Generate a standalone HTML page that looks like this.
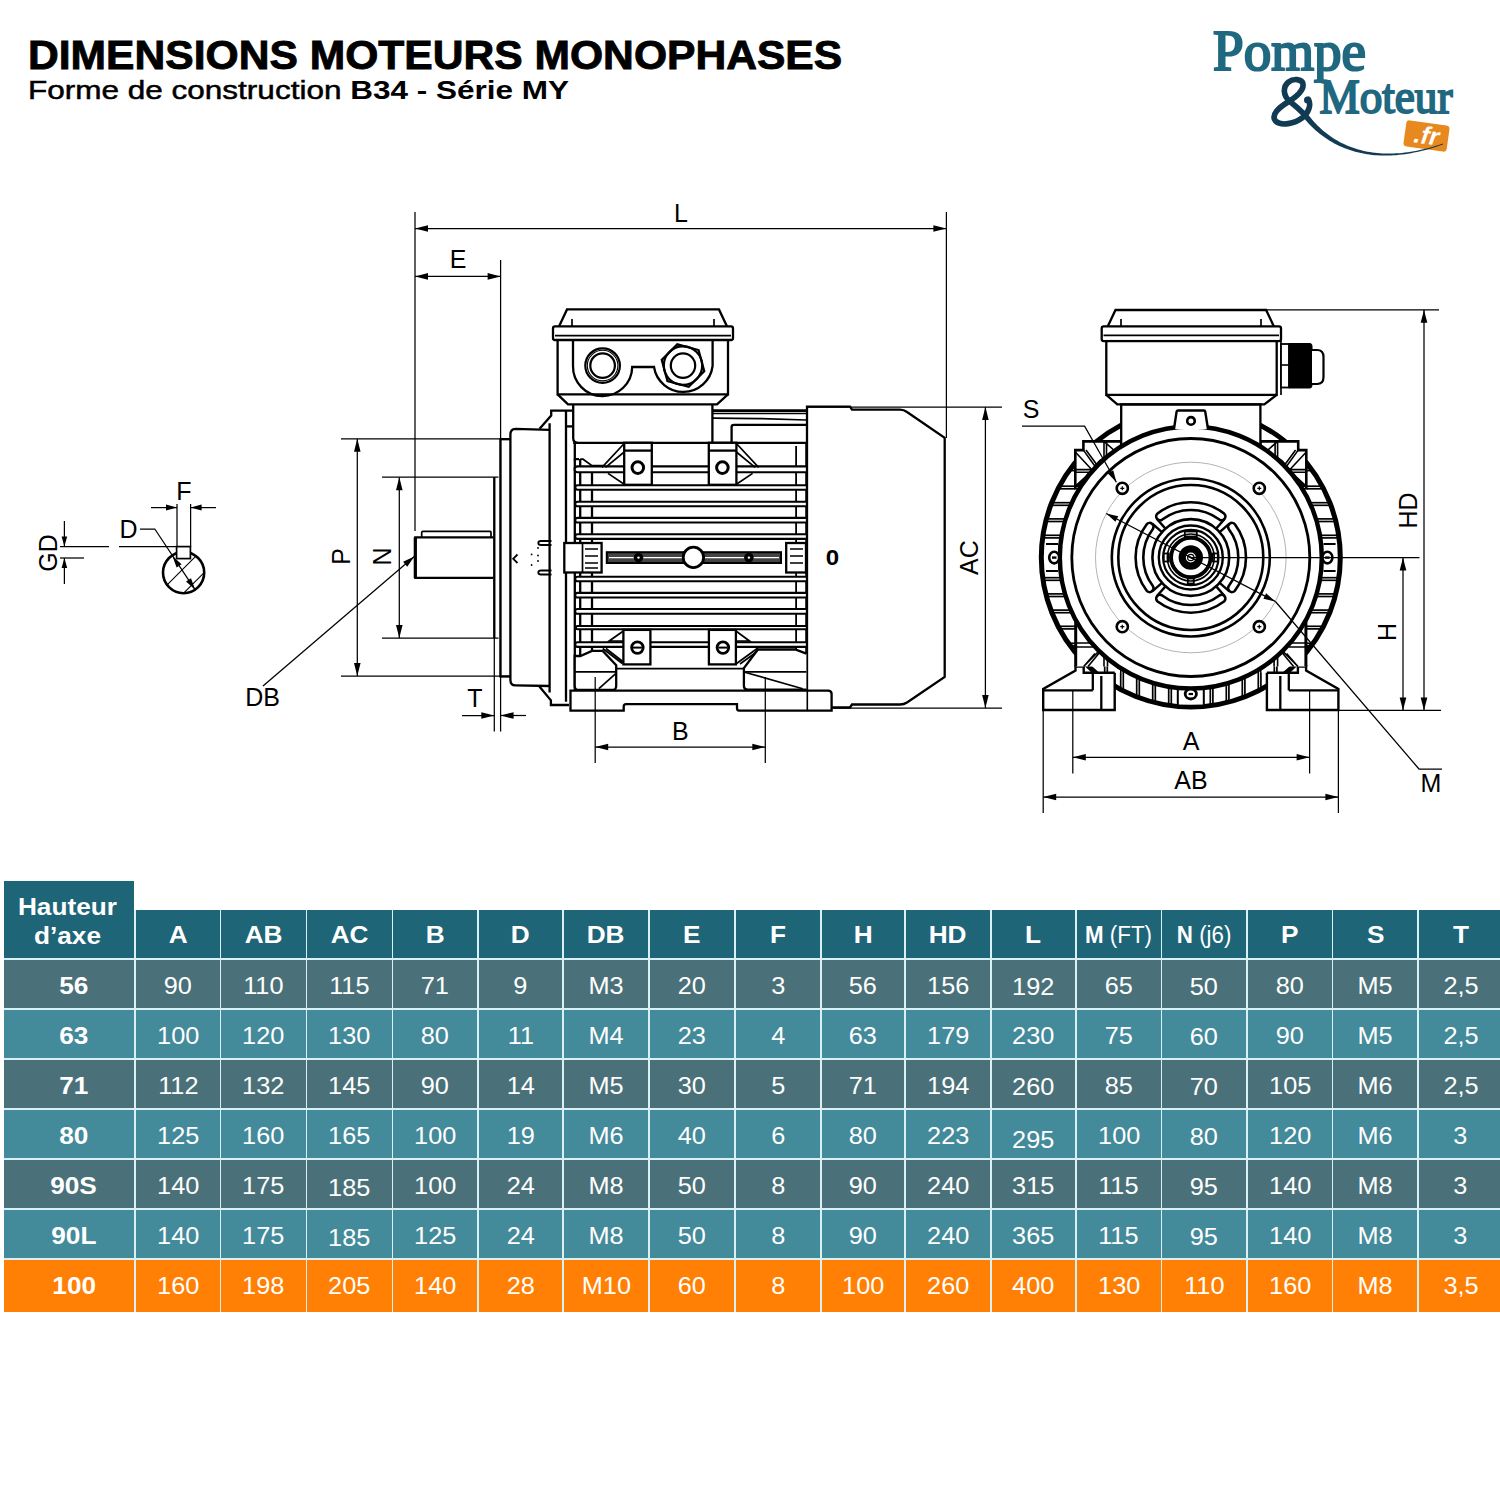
<!DOCTYPE html>
<html><head><meta charset="utf-8"><title>Dimensions moteurs monophases</title>
<style>
html,body{margin:0;padding:0;background:#fff;width:1500px;height:1500px;overflow:hidden;position:relative;font-family:"Liberation Sans",sans-serif}
.t1{position:absolute;left:28.3px;top:31.5px;font-weight:bold;font-size:40.7px;line-height:46px;white-space:nowrap;color:#000;transform-origin:0 0;transform:scaleX(1.047);-webkit-text-stroke:0.9px #000}
.t2{position:absolute;left:28.2px;top:74.5px;font-weight:bold;font-size:26.2px;line-height:30px;white-space:nowrap;color:#000;transform-origin:0 0;transform:scaleX(1.203)}
.m{font-weight:normal;-webkit-text-stroke:0.5px #000}
.c{position:absolute;color:#fff;text-align:center;font-size:23px;white-space:nowrap;box-sizing:border-box}
.h{background:#1f6578;font-weight:bold}
.b{font-weight:bold}
.r{font-weight:normal}
.sx{display:inline-block;transform:scaleX(1.14)}
.sd{display:inline-block;transform:scaleX(1.1)}
.sm{display:inline-block;transform:scaleX(0.97)}
svg{position:absolute;left:0;top:0}
</style></head><body>
<div class="t1" id="t1">DIMENSIONS MOTEURS MONOPHASES</div>
<div class="t2" id="t2"><span class="m">Forme de construction </span>B34 - Série MY</div>
<svg width="1500" height="880" viewBox="0 0 1500 880">
<g stroke="#000" stroke-linecap="butt" stroke-linejoin="miter" fill="none" font-family="Liberation Sans, sans-serif">
<path d="M559,326.4 L567,309.4 H719 L727,326.4" stroke-width="2.3" fill="none"/>
<line x1="572" y1="319" x2="572" y2="326.4" stroke-width="1.7"/>
<line x1="714" y1="319" x2="714" y2="326.4" stroke-width="1.7"/>
<rect x="553" y="326.4" width="180" height="13.6" rx="2" stroke-width="2.3" fill="none"/>
<line x1="555" y1="335.6" x2="731" y2="335.6" stroke-width="1.7"/>
<path d="M557.6,340 V394.4 H728 V340" stroke-width="2.3" fill="none"/>
<path d="M557.6,394.4 L568,404.4 H717 L728,394.4" stroke-width="2.3" fill="none"/>
<path d="M573,340 V366 A29.6,29.6 0 0 0 632.2,367 H654 A29.6,29.6 0 0 0 712.6,366 V340" stroke-width="2.3" fill="none"/>
<circle cx="602.6" cy="365.6" r="17.3" stroke-width="2.2" fill="none"/>
<circle cx="602.6" cy="365.6" r="15.3" stroke-width="1.1" fill="none"/>
<circle cx="602.6" cy="365.6" r="12.3" stroke-width="2.2" fill="none"/>
<polygon points="704.25,371.29 688.69,386.85 667.44,381.16 661.75,359.91 677.31,344.35 698.56,350.04" stroke-width="2.2" fill="#fff"/>
<circle cx="683" cy="365.6" r="19.2" stroke-width="2.2" fill="none"/>
<circle cx="683" cy="365.6" r="12.2" stroke-width="2.2" fill="none"/>
<path d="M573.2,404.4 V438 Q573.2,442.8 578,442.8" stroke-width="2.3" fill="none"/>
<line x1="712.4" y1="404.4" x2="712.4" y2="442.8" stroke-width="2.3"/>
<line x1="712.4" y1="410.8" x2="806" y2="410.8" stroke-width="3"/>
<line x1="712.4" y1="413.7" x2="806" y2="413.7" stroke-width="1.3"/>
<path d="M712.4,418.2 L760,418.6 L806,420" stroke-width="1.7" fill="none"/>
<path d="M731.6,442.8 V427 Q731.6,424.9 734,424.9 H811.8" stroke-width="2.3" fill="none"/>
<path d="M549.6,429.8 L515.5,428.8 Q510.4,429 510.4,434.5 V680 Q510.4,685.4 515.5,685.4 L549.6,686" stroke-width="2.3" fill="none"/>
<path d="M539.6,428.8 L551.2,415.6 V410.6 H572.4" stroke-width="2.3" fill="none"/>
<path d="M539.2,686.3 L550.9,700.3 V705 H569" stroke-width="2.3" fill="none"/>
<line x1="549.6" y1="423.2" x2="549.6" y2="692.4" stroke-width="2.3"/>
<line x1="566" y1="410.6" x2="566" y2="701.7" stroke-width="2.3"/>
<line x1="566" y1="426.4" x2="572.4" y2="426.4" stroke-width="2.3"/>
<line x1="500.4" y1="439.2" x2="510.4" y2="439.2" stroke-width="2.3"/>
<line x1="500.4" y1="676.5" x2="510.4" y2="676.5" stroke-width="2.3"/>
<line x1="500.4" y1="438.2" x2="500.4" y2="677.5" stroke-width="2.3"/>
<path d="M551.5,541 H541 Q538.3,541 538.3,543 Q538.3,545 541,545 H551.5" stroke-width="1.8" fill="none"/>
<path d="M551.5,570.5 H541 Q538.3,570.5 538.3,572.5 Q538.3,574.5 541,574.5 H551.5" stroke-width="1.8" fill="none"/>
<path d="M517.5,554.5 L513.2,558.8 L517.5,563" stroke-width="1.8" fill="none"/>
<circle cx="538" cy="548" r="0.9" stroke-width="0" fill="#000"/>
<circle cx="531.6" cy="554.4" r="0.9" stroke-width="0" fill="#000"/>
<circle cx="538" cy="555.5" r="0.9" stroke-width="0" fill="#000"/>
<circle cx="531.6" cy="565" r="0.9" stroke-width="0" fill="#000"/>
<circle cx="538" cy="561" r="0.9" stroke-width="0" fill="#000"/>
<path d="M493.2,537.3 H415.3 V577.9 H493.2" stroke-width="2.3" fill="none"/>
<line x1="415.3" y1="537.3" x2="415.3" y2="577.9" stroke-width="3.2"/>
<path d="M421.7,537.3 V532.5 Q421.7,531.4 423,531.4 H490 Q491,531.4 491,532.5 V537.3" stroke-width="1.7" fill="none"/>
<line x1="494.3" y1="477.2" x2="494.3" y2="638" stroke-width="2.3"/>
<path d="M574.8,442.8 V459.2 H579" stroke-width="2.3" fill="none"/>
<line x1="574.8" y1="459.2" x2="574.8" y2="700" stroke-width="2.3"/>
<line x1="580.2" y1="459" x2="580.2" y2="656" stroke-width="2.3"/>
<line x1="592" y1="466" x2="592" y2="656" stroke-width="2.3"/>
<line x1="796.1" y1="446" x2="796.1" y2="668" stroke-width="1.8"/>
<line x1="806.4" y1="442.8" x2="806.4" y2="690" stroke-width="2.3"/>
<line x1="573.2" y1="442.8" x2="807" y2="442.8" stroke-width="2.3"/>
<path d="M806,466.4 H577.5 A2.9,2.9 0 0 0 577.5,472.2 H806" stroke-width="2.1" fill="#fff"/>
<path d="M806,485.3 H577.5 A2.2,2.2 0 0 0 577.5,489.7 H806" stroke-width="2.1" fill="#fff"/>
<path d="M806,501.7 H577.5 A2.3,2.3 0 0 0 577.5,506.3 H806" stroke-width="2.1" fill="#fff"/>
<path d="M806,517.9 H577.5 A2.3,2.3 0 0 0 577.5,522.5 H806" stroke-width="2.1" fill="#fff"/>
<path d="M806,534.3 H577.5 A2.3,2.3 0 0 0 577.5,538.9 H806" stroke-width="2.1" fill="#fff"/>
<path d="M806,576.7 H577.5 A2.3,2.3 0 0 0 577.5,581.3 H806" stroke-width="2.1" fill="#fff"/>
<path d="M806,592.9 H577.5 A2.3,2.3 0 0 0 577.5,597.5 H806" stroke-width="2.1" fill="#fff"/>
<path d="M806,609 H577.5 A2.4,2.4 0 0 0 577.5,613.8 H806" stroke-width="2.1" fill="#fff"/>
<path d="M806,626 H577.5 A1.6,1.6 0 0 0 577.5,629.2 H806" stroke-width="2.1" fill="#fff"/>
<path d="M806,642.3 H577.5 A2.3,2.3 0 0 0 577.5,646.9 H806" stroke-width="2.1" fill="#fff"/>
<rect x="624.2" y="442.8" width="27.6" height="42" rx="0" stroke-width="2.3" fill="#fff"/>
<line x1="624.2" y1="450.6" x2="651.8" y2="450.6" stroke-width="2.3"/>
<circle cx="637.8" cy="467.6" r="5.8" stroke-width="3" fill="none"/>
<rect x="708.8" y="442.8" width="27.6" height="42" rx="0" stroke-width="2.3" fill="#fff"/>
<line x1="708.8" y1="450.6" x2="736.4" y2="450.6" stroke-width="2.3"/>
<circle cx="722.4" cy="467.6" r="5.8" stroke-width="3" fill="none"/>
<rect x="623.4" y="629.9" width="27" height="34.5" rx="0" stroke-width="2.3" fill="#fff"/>
<circle cx="637.4" cy="647.6" r="5.8" stroke-width="2.8" fill="none"/>
<line x1="632.9" y1="647.6" x2="641.9" y2="647.6" stroke-width="2"/>
<rect x="708.9" y="629.9" width="27" height="34.5" rx="0" stroke-width="2.3" fill="#fff"/>
<circle cx="722.9" cy="647.6" r="5.8" stroke-width="2.8" fill="none"/>
<line x1="718.4" y1="647.6" x2="727.4" y2="647.6" stroke-width="2"/>
<path d="M624.2,443.5 L602,467.4 M624.2,452 L605.5,467.4 M608,473.4 L624.2,484.2" stroke-width="1.7" fill="none"/>
<path d="M736.4,443.5 L758.6,467.4 M736.4,452 L755.1,467.4 M752.6,473.4 L736.4,484.2" stroke-width="1.7" fill="none"/>
<path d="M580.2,459.2 H583 L592,465.6 H603.2" stroke-width="1.7" fill="none"/>
<path d="M623.4,631 L609.2,641 H623.4 M602.7,648.5 L622.3,663.5 M606,648.5 L623.4,662" stroke-width="1.7" fill="none"/>
<path d="M735.9,631 L749.5,641 H735.9 M757.9,648 L735.9,664 M757.9,651 L740,664" stroke-width="1.7" fill="none"/>
<rect x="606.8" y="552.2" width="174.2" height="10.8" rx="0" stroke-width="2" fill="#444"/>
<line x1="609" y1="557.6" x2="779" y2="557.6" stroke-width="1.2" stroke="#fff"/>
<circle cx="693.4" cy="557.4" r="10.2" stroke-width="2.8" fill="#fff"/>
<circle cx="638.5" cy="557.6" r="4.8" stroke-width="0" fill="#000"/>
<circle cx="748.9" cy="557.6" r="4.8" stroke-width="0" fill="#000"/>
<circle cx="638.5" cy="557.6" r="1.2" stroke-width="0" fill="#fff"/>
<circle cx="748.9" cy="557.6" r="1.2" stroke-width="0" fill="#fff"/>
<rect x="564.3" y="543" width="37.3" height="29.5" rx="0" stroke-width="2.3" fill="#fff"/>
<line x1="582.5" y1="543" x2="582.5" y2="572.5" stroke-width="1.7"/>
<path d="M585,549 H598 M585,556 H598 M585,563 H598 M585,568 H598" stroke-width="1.3" fill="none"/>
<rect x="786.2" y="543" width="19.8" height="29.5" rx="0" stroke-width="2.3" fill="#fff"/>
<path d="M790,549 H803 M790,556 H803 M790,563 H803" stroke-width="1.3" fill="none"/>
<line x1="616" y1="668.6" x2="743.9" y2="668.6" stroke-width="1.7"/>
<path d="M807,406.7 H850 L852,409.7 H900 Q904,409.7 907,412 L944.7,437.8 V677 L907,702.5 Q904,704.5 900,704.5 H852 L850,707.5 H807 Z" stroke-width="2.3" fill="#fff"/>
<path d="M574.7,656 V686 Q574.7,690 578.7,690 H612.2 Q616.2,690 616.2,686 V665.3 L602.7,650.9 H592 L580.3,656 Z" stroke-width="2.3" fill="#fff"/>
<line x1="574.7" y1="671.9" x2="616.2" y2="671.9" stroke-width="1.7"/>
<line x1="598.9" y1="688.7" x2="615.7" y2="673.7" stroke-width="1.7"/>
<path d="M806.4,653.7 L795.2,649.5 H757.9 L743.9,668.1 V686 Q743.9,689.6 747.5,689.6 H806.4" stroke-width="2.3" fill="#fff"/>
<line x1="743.9" y1="671.9" x2="806.4" y2="671.9" stroke-width="1.7"/>
<line x1="743.9" y1="672" x2="802.7" y2="688.7" stroke-width="1.7"/>
<path d="M570.5,690.6 H828 Q831.6,690.6 831.6,694 V710.6 H739 Q737,710.6 737,708 V704.1 H626 Q623.7,704.1 623.7,706.5 V710.6 H570.5 Z" stroke-width="2.3" fill="#fff"/>
<line x1="807.3" y1="690.6" x2="807.3" y2="710.6" stroke-width="1.6"/>
<line x1="415" y1="212" x2="415" y2="531" stroke-width="1.25"/>
<line x1="946.4" y1="212" x2="946.4" y2="438" stroke-width="1.25"/>
<line x1="415" y1="228.5" x2="946.4" y2="228.5" stroke-width="1.25"/>
<path d="M415,228.5 L428,225.2 L428,231.8 Z" fill="#000" stroke="none"/>
<path d="M946.4,228.5 L933.4,231.8 L933.4,225.2 Z" fill="#000" stroke="none"/>
<line x1="500.6" y1="260" x2="500.6" y2="731.5" stroke-width="1.25"/>
<line x1="415" y1="276.4" x2="500.6" y2="276.4" stroke-width="1.25"/>
<path d="M415,276.4 L428,273.1 L428,279.7 Z" fill="#000" stroke="none"/>
<path d="M500.6,276.4 L487.6,279.7 L487.6,273.1 Z" fill="#000" stroke="none"/>
<line x1="341" y1="438.8" x2="509" y2="438.8" stroke-width="1.25"/>
<line x1="341" y1="676" x2="509" y2="676" stroke-width="1.25"/>
<line x1="357.3" y1="438.8" x2="357.3" y2="676" stroke-width="1.25"/>
<path d="M357.3,438.8 L360.6,451.8 L354,451.8 Z" fill="#000" stroke="none"/>
<path d="M357.3,676 L354,663 L360.6,663 Z" fill="#000" stroke="none"/>
<line x1="382" y1="477.2" x2="498.5" y2="477.2" stroke-width="1.25"/>
<line x1="382" y1="638" x2="498.5" y2="638" stroke-width="1.25"/>
<line x1="399.3" y1="477.2" x2="399.3" y2="638" stroke-width="1.25"/>
<path d="M399.3,477.2 L402.6,490.2 L396,490.2 Z" fill="#000" stroke="none"/>
<path d="M399.3,638 L396,625 L402.6,625 Z" fill="#000" stroke="none"/>
<line x1="494.3" y1="477.2" x2="494.3" y2="731.5" stroke-width="1.25"/>
<line x1="462" y1="715.5" x2="494.3" y2="715.5" stroke-width="1.25"/>
<path d="M494.3,715.5 L481.3,718.8 L481.3,712.2 Z" fill="#000" stroke="none"/>
<line x1="500.6" y1="715.5" x2="526" y2="715.5" stroke-width="1.25"/>
<path d="M500.6,715.5 L513.6,712.2 L513.6,718.8 Z" fill="#000" stroke="none"/>
<line x1="414.3" y1="556.5" x2="263" y2="686" stroke-width="1.25"/>
<path d="M414.3,556.5 L407.26,566.73 L403.1,561.87 Z" fill="#000" stroke="none"/>
<line x1="595.2" y1="677" x2="595.2" y2="763" stroke-width="1.25"/>
<line x1="765.3" y1="677" x2="765.3" y2="763" stroke-width="1.25"/>
<line x1="595.2" y1="747" x2="765.3" y2="747" stroke-width="1.25"/>
<path d="M595.2,747 L608.2,743.7 L608.2,750.3 Z" fill="#000" stroke="none"/>
<path d="M765.3,747 L752.3,750.3 L752.3,743.7 Z" fill="#000" stroke="none"/>
<line x1="807" y1="407" x2="1002" y2="407" stroke-width="1.25"/>
<line x1="833" y1="708" x2="1002" y2="708" stroke-width="1.25"/>
<line x1="985.4" y1="407" x2="985.4" y2="708" stroke-width="1.25"/>
<path d="M985.4,407 L988.7,420 L982.1,420 Z" fill="#000" stroke="none"/>
<path d="M985.4,708 L982.1,695 L988.7,695 Z" fill="#000" stroke="none"/>
<line x1="177" y1="504" x2="177" y2="547" stroke-width="1.25"/>
<line x1="190.6" y1="504" x2="190.6" y2="547" stroke-width="1.25"/>
<line x1="151" y1="507.6" x2="177" y2="507.6" stroke-width="1.25"/>
<path d="M177,507.6 L166,510.6 L166,504.6 Z" fill="#000" stroke="none"/>
<line x1="190.6" y1="507.6" x2="216" y2="507.6" stroke-width="1.25"/>
<path d="M190.6,507.6 L201.6,504.6 L201.6,510.6 Z" fill="#000" stroke="none"/>
<line x1="60" y1="546.6" x2="109" y2="546.6" stroke-width="1.25"/>
<line x1="119" y1="546.6" x2="177" y2="546.6" stroke-width="1.25"/>
<line x1="60" y1="558" x2="84" y2="558" stroke-width="1.25"/>
<line x1="64.4" y1="521" x2="64.4" y2="546.6" stroke-width="1.25"/>
<path d="M64.4,546.6 L61.6,536.6 L67.2,536.6 Z" fill="#000" stroke="none"/>
<line x1="64.4" y1="558" x2="64.4" y2="584" stroke-width="1.25"/>
<path d="M64.4,558 L67.2,568 L61.6,568 Z" fill="#000" stroke="none"/>
<circle cx="183.6" cy="572.6" r="20.6" stroke-width="2.6" fill="none"/>
<clipPath id="shc"><circle cx="183.6" cy="572.6" r="20"/></clipPath>
<g clip-path="url(#shc)">
<line x1="184" y1="543.2" x2="104" y2="623.2" stroke-width="1.1"/>
<line x1="208.8" y1="543.2" x2="128.8" y2="623.2" stroke-width="1.1"/>
<line x1="233.6" y1="543.2" x2="153.6" y2="623.2" stroke-width="1.1"/>
</g>
<rect x="176.6" y="546.6" width="13.8" height="12" rx="0" stroke-width="1.7" fill="#fff"/>
<path d="M140,529 H154.8 L195.2,589.8" stroke-width="1.25" fill="none"/>
<path d="M172.4,555.9 L181.59,564.18 L176.61,567.53 Z" fill="#000" stroke="none"/>
<path d="M195.2,589.8 L186.01,581.52 L190.99,578.17 Z" fill="#000" stroke="none"/>
<circle cx="1190.8" cy="557.5" r="149.5" stroke-width="5" fill="#fff"/>
<line x1="1286.3" y1="468" x2="1310.27" y2="468" stroke-width="1.7"/>
<line x1="1286.3" y1="470.6" x2="1310.27" y2="470.6" stroke-width="1.7"/>
<line x1="1095.3" y1="468" x2="1071.33" y2="468" stroke-width="1.7"/>
<line x1="1095.3" y1="470.6" x2="1071.33" y2="470.6" stroke-width="1.7"/>
<line x1="1300.34" y1="486.2" x2="1321.77" y2="486.2" stroke-width="1.7"/>
<line x1="1300.34" y1="488.8" x2="1321.77" y2="488.8" stroke-width="1.7"/>
<line x1="1081.26" y1="486.2" x2="1059.83" y2="486.2" stroke-width="1.7"/>
<line x1="1081.26" y1="488.8" x2="1059.83" y2="488.8" stroke-width="1.7"/>
<line x1="1309.28" y1="502.7" x2="1329.33" y2="502.7" stroke-width="1.7"/>
<line x1="1309.28" y1="505.3" x2="1329.33" y2="505.3" stroke-width="1.7"/>
<line x1="1072.32" y1="502.7" x2="1052.27" y2="502.7" stroke-width="1.7"/>
<line x1="1072.32" y1="505.3" x2="1052.27" y2="505.3" stroke-width="1.7"/>
<line x1="1315.33" y1="518.9" x2="1334.54" y2="518.9" stroke-width="1.7"/>
<line x1="1315.33" y1="521.5" x2="1334.54" y2="521.5" stroke-width="1.7"/>
<line x1="1066.27" y1="518.9" x2="1047.06" y2="518.9" stroke-width="1.7"/>
<line x1="1066.27" y1="521.5" x2="1047.06" y2="521.5" stroke-width="1.7"/>
<line x1="1319.11" y1="535.3" x2="1337.82" y2="535.3" stroke-width="1.7"/>
<line x1="1319.11" y1="537.9" x2="1337.82" y2="537.9" stroke-width="1.7"/>
<line x1="1062.49" y1="535.3" x2="1043.78" y2="535.3" stroke-width="1.7"/>
<line x1="1062.49" y1="537.9" x2="1043.78" y2="537.9" stroke-width="1.7"/>
<line x1="1319.01" y1="577.7" x2="1337.74" y2="577.7" stroke-width="1.7"/>
<line x1="1319.01" y1="580.3" x2="1337.74" y2="580.3" stroke-width="1.7"/>
<line x1="1062.59" y1="577.7" x2="1043.86" y2="577.7" stroke-width="1.7"/>
<line x1="1062.59" y1="580.3" x2="1043.86" y2="580.3" stroke-width="1.7"/>
<line x1="1315.21" y1="593.9" x2="1334.43" y2="593.9" stroke-width="1.7"/>
<line x1="1315.21" y1="596.5" x2="1334.43" y2="596.5" stroke-width="1.7"/>
<line x1="1066.39" y1="593.9" x2="1047.17" y2="593.9" stroke-width="1.7"/>
<line x1="1066.39" y1="596.5" x2="1047.17" y2="596.5" stroke-width="1.7"/>
<line x1="1309.1" y1="610.1" x2="1329.17" y2="610.1" stroke-width="1.7"/>
<line x1="1309.1" y1="612.7" x2="1329.17" y2="612.7" stroke-width="1.7"/>
<line x1="1072.5" y1="610.1" x2="1052.43" y2="610.1" stroke-width="1.7"/>
<line x1="1072.5" y1="612.7" x2="1052.43" y2="612.7" stroke-width="1.7"/>
<line x1="1300.28" y1="626.3" x2="1321.71" y2="626.3" stroke-width="1.7"/>
<line x1="1300.28" y1="628.9" x2="1321.71" y2="628.9" stroke-width="1.7"/>
<line x1="1081.32" y1="626.3" x2="1059.89" y2="626.3" stroke-width="1.7"/>
<line x1="1081.32" y1="628.9" x2="1059.89" y2="628.9" stroke-width="1.7"/>
<line x1="1287.31" y1="643.3" x2="1311.07" y2="643.3" stroke-width="1.7"/>
<line x1="1287.31" y1="645.9" x2="1311.07" y2="645.9" stroke-width="1.7"/>
<line x1="1094.29" y1="643.3" x2="1070.53" y2="643.3" stroke-width="1.7"/>
<line x1="1094.29" y1="645.9" x2="1070.53" y2="645.9" stroke-width="1.7"/>
<line x1="1210.3" y1="685.83" x2="1210.3" y2="704.54" stroke-width="1.7"/>
<line x1="1212.9" y1="685.83" x2="1212.9" y2="704.54" stroke-width="1.7"/>
<line x1="1168.7" y1="685.83" x2="1168.7" y2="704.54" stroke-width="1.7"/>
<line x1="1171.3" y1="685.83" x2="1171.3" y2="704.54" stroke-width="1.7"/>
<line x1="1226.3" y1="682.18" x2="1226.3" y2="701.37" stroke-width="1.7"/>
<line x1="1228.9" y1="682.18" x2="1228.9" y2="701.37" stroke-width="1.7"/>
<line x1="1152.7" y1="682.18" x2="1152.7" y2="701.37" stroke-width="1.7"/>
<line x1="1155.3" y1="682.18" x2="1155.3" y2="701.37" stroke-width="1.7"/>
<line x1="1242.3" y1="676.29" x2="1242.3" y2="696.3" stroke-width="1.7"/>
<line x1="1244.9" y1="676.29" x2="1244.9" y2="696.3" stroke-width="1.7"/>
<line x1="1136.7" y1="676.29" x2="1136.7" y2="696.3" stroke-width="1.7"/>
<line x1="1139.3" y1="676.29" x2="1139.3" y2="696.3" stroke-width="1.7"/>
<line x1="1258.3" y1="667.8" x2="1258.3" y2="689.1" stroke-width="1.7"/>
<line x1="1260.9" y1="667.8" x2="1260.9" y2="689.1" stroke-width="1.7"/>
<line x1="1120.7" y1="667.8" x2="1120.7" y2="689.1" stroke-width="1.7"/>
<line x1="1123.3" y1="667.8" x2="1123.3" y2="689.1" stroke-width="1.7"/>
<line x1="1274.3" y1="656.03" x2="1274.3" y2="679.41" stroke-width="1.7"/>
<line x1="1276.9" y1="656.03" x2="1276.9" y2="679.41" stroke-width="1.7"/>
<line x1="1104.7" y1="656.03" x2="1104.7" y2="679.41" stroke-width="1.7"/>
<line x1="1107.3" y1="656.03" x2="1107.3" y2="679.41" stroke-width="1.7"/>
<polygon points="1043.2,710 1043.2,689 1075.5,670.5 1075.5,666.5 1083.7,666.5 1083.7,672.7 1114.7,672.7 1114.7,710" stroke-width="2.4" fill="#fff"/>
<polygon points="1338.4,710 1338.4,689 1306.1,670.5 1306.1,666.5 1297.9,666.5 1297.9,672.7 1266.9,672.7 1266.9,710" stroke-width="2.4" fill="#fff"/>
<line x1="1043.2" y1="690.3" x2="1092.8" y2="690.3" stroke-width="2.3"/>
<line x1="1092.8" y1="672.7" x2="1092.8" y2="690.3" stroke-width="2.3"/>
<line x1="1101.3" y1="676" x2="1101.3" y2="710" stroke-width="2.3"/>
<polygon points="1075.7,622 1075.7,666.5 1114.7,666.5 1114.7,672.7 1120,672.7 1120,668 1108,662 1098,651 1088,638" stroke="none" fill="#fff"/>
<line x1="1075.7" y1="618" x2="1075.7" y2="666.5" stroke-width="3"/>
<path d="M1083.7,666.5 L1099,651 M1088,666.5 L1100,652 M1083.7,666.5 L1095,653.5 M1104,666.5 V655 M1107.5,666.5 V657" stroke-width="1.6" fill="none"/>
<path d="M1075.7,643 H1090 M1075.7,647 H1093" stroke-width="1.5" fill="none"/>
<polygon points="1075.3,487 1075.3,450.1 1083.4,450.1 1083.4,441.4 1121.2,441.4 1121.2,447 1100,461 1085,478" stroke-width="2.6" fill="#fff"/>
<path d="M1083.4,450.1 L1097,469 M1086,450.1 L1098.5,467 M1075.3,452 L1094,472 M1104,441.4 V461 M1106.5,441.4 V459 M1075.3,469.6 H1092 M1075.3,472.2 H1089 M1104,441.4 L1116,452" stroke-width="1.6" fill="none"/>
<line x1="1338.4" y1="690.3" x2="1288.8" y2="690.3" stroke-width="2.3"/>
<line x1="1288.8" y1="672.7" x2="1288.8" y2="690.3" stroke-width="2.3"/>
<line x1="1280.3" y1="676" x2="1280.3" y2="710" stroke-width="2.3"/>
<polygon points="1305.9,622 1305.9,666.5 1266.9,666.5 1266.9,672.7 1261.6,672.7 1261.6,668 1273.6,662 1283.6,651 1293.6,638" stroke="none" fill="#fff"/>
<line x1="1305.9" y1="618" x2="1305.9" y2="666.5" stroke-width="3"/>
<path d="M1297.9,666.5 L1282.6,651 M1293.6,666.5 L1281.6,652 M1297.9,666.5 L1286.6,653.5 M1277.6,666.5 V655 M1274.1,666.5 V657" stroke-width="1.6" fill="none"/>
<path d="M1305.9,643 H1291.6 M1305.9,647 H1288.6" stroke-width="1.5" fill="none"/>
<polygon points="1306.3,487 1306.3,450.1 1298.2,450.1 1298.2,441.4 1260.4,441.4 1260.4,447 1281.6,461 1296.6,478" stroke-width="2.6" fill="#fff"/>
<path d="M1298.2,450.1 L1284.6,469 M1295.6,450.1 L1283.1,467 M1306.3,452 L1287.6,472 M1277.6,441.4 V461 M1275.1,441.4 V459 M1306.3,469.6 H1289.6 M1306.3,472.2 H1292.6 M1277.6,441.4 L1265.6,452" stroke-width="1.6" fill="none"/>
<rect x="1121.2" y="404.4" width="139.2" height="46" rx="0" stroke-width="2.3" fill="#fff"/>
<circle cx="1190.8" cy="557.5" r="131" stroke-width="4.5" fill="#fff"/>
<circle cx="1190.8" cy="557.5" r="119" stroke-width="2.8" fill="none"/>
<circle cx="1190.8" cy="557.5" r="95.3" stroke="#aaa" stroke-width="0.9" fill="none"/>
<circle cx="1190.8" cy="557.5" r="79" stroke-width="2.6" fill="none"/>
<circle cx="1190.8" cy="557.5" r="72.5" stroke-width="2.6" fill="none"/>
<path d="M1157.58,513.42 A55.2,55.2 0 0 1 1224.02,513.42 A3.85,3.85 0 0 1 1219.39,519.56 A47.5,47.5 0 0 0 1162.21,519.56 A3.85,3.85 0 0 1 1157.58,513.42 Z" stroke-width="2.6" fill="none"/>
<line x1="1165.46" y1="528.65" x2="1156.94" y2="518.96" stroke-width="2.4"/>
<line x1="1216.14" y1="528.65" x2="1224.66" y2="518.96" stroke-width="2.4"/>
<path d="M1234.88,524.28 A55.2,55.2 0 0 1 1234.88,590.72 A3.85,3.85 0 0 1 1228.74,586.09 A47.5,47.5 0 0 0 1228.74,528.91 A3.85,3.85 0 0 1 1234.88,524.28 Z" stroke-width="2.6" fill="none"/>
<line x1="1219.65" y1="532.16" x2="1229.34" y2="523.64" stroke-width="2.4"/>
<line x1="1219.65" y1="582.84" x2="1229.34" y2="591.36" stroke-width="2.4"/>
<path d="M1224.02,601.58 A55.2,55.2 0 0 1 1157.58,601.58 A3.85,3.85 0 0 1 1162.21,595.44 A47.5,47.5 0 0 0 1219.39,595.44 A3.85,3.85 0 0 1 1224.02,601.58 Z" stroke-width="2.6" fill="none"/>
<line x1="1216.14" y1="586.35" x2="1224.66" y2="596.04" stroke-width="2.4"/>
<line x1="1165.46" y1="586.35" x2="1156.94" y2="596.04" stroke-width="2.4"/>
<path d="M1146.72,590.72 A55.2,55.2 0 0 1 1146.72,524.28 A3.85,3.85 0 0 1 1152.86,528.91 A47.5,47.5 0 0 0 1152.86,586.09 A3.85,3.85 0 0 1 1146.72,590.72 Z" stroke-width="2.6" fill="none"/>
<line x1="1161.95" y1="582.84" x2="1152.26" y2="591.36" stroke-width="2.4"/>
<line x1="1161.95" y1="532.16" x2="1152.26" y2="523.64" stroke-width="2.4"/>
<circle cx="1190.8" cy="557.5" r="38.4" stroke-width="2.6" fill="none"/>
<circle cx="1190.8" cy="557.5" r="32" stroke-width="2.4" fill="none"/>
<circle cx="1190.8" cy="557.5" r="27.7" stroke-width="2.2" fill="none"/>
<rect x="1184.8" y="531.5" width="12" height="5" rx="0" stroke-width="1.8" fill="#fff"/>
<rect x="1187.8" y="578.5" width="6" height="5" rx="0" stroke-width="1.8" fill="#fff"/>
<rect x="1163.8" y="553.5" width="5" height="8" rx="0" stroke-width="1.8" fill="#fff"/>
<rect x="1212.8" y="553.5" width="5" height="8" rx="0" stroke-width="1.8" fill="#fff"/>
<circle cx="1190.8" cy="557.5" r="19.7" stroke-width="3.8" fill="none"/>
<circle cx="1190.8" cy="557.5" r="23.5" stroke-width="1.6" fill="none"/>
<circle cx="1190.8" cy="557.5" r="8.6" stroke-width="7.2" fill="none"/>
<circle cx="1190.8" cy="557.5" r="3.2" stroke-width="1.2" fill="none"/>
<line x1="1187.8" y1="556" x2="1193.8" y2="559" stroke-width="1.6"/>
<circle cx="1122.3" cy="488.3" r="5.6" stroke-width="2.6" fill="#fff"/>
<path d="M1120.3,488.3 H1124.3 M1122.3,486.3 V490.3" stroke-width="1.2" fill="none"/>
<circle cx="1259.3" cy="488.3" r="5.6" stroke-width="2.6" fill="#fff"/>
<path d="M1257.3,488.3 H1261.3 M1259.3,486.3 V490.3" stroke-width="1.2" fill="none"/>
<circle cx="1122.3" cy="626.7" r="5.6" stroke-width="2.6" fill="#fff"/>
<path d="M1120.3,626.7 H1124.3 M1122.3,624.7 V628.7" stroke-width="1.2" fill="none"/>
<circle cx="1259.3" cy="626.7" r="5.6" stroke-width="2.6" fill="#fff"/>
<path d="M1257.3,626.7 H1261.3 M1259.3,624.7 V628.7" stroke-width="1.2" fill="none"/>
<polygon points="1045.5,544 1057.5,544 1057.5,571 1045.5,571" stroke="none" fill="#fff"/>
<path d="M1046,544 H1058 M1046,571 H1058" stroke-width="2" fill="none"/>
<ellipse cx="1054.2" cy="557.6" rx="5" ry="5.8" stroke-width="2.6" fill="#fff"/>
<line x1="1052" y1="557.6" x2="1056.5" y2="557.6" stroke-width="2.4"/>
<polygon points="1336.1,544 1324.1,544 1324.1,571 1336.1,571" stroke="none" fill="#fff"/>
<path d="M1335.6,544 H1323.6 M1335.6,571 H1323.6" stroke-width="2" fill="none"/>
<ellipse cx="1327.4" cy="557.6" rx="5" ry="5.8" stroke-width="2.6" fill="#fff"/>
<line x1="1329.6" y1="557.6" x2="1325.1" y2="557.6" stroke-width="2.4"/>
<polygon points="1177.8,691.2 1203.8,691.2 1203.8,704.5 1177.8,704.5" stroke="none" fill="#fff"/>
<path d="M1177.8,690 V705 M1203.8,690 V705" stroke-width="2" fill="none"/>
<ellipse cx="1190.8" cy="694" rx="5.6" ry="5" stroke-width="2.8" fill="#fff"/>
<line x1="1188.6" y1="694" x2="1193" y2="694" stroke-width="2.2"/>
<path d="M1174,429 L1176.6,411.5 Q1177,410.5 1178,410.5 H1204 Q1205,410.5 1205.2,411.5 L1208,429" stroke-width="2.4" fill="#fff"/>
<circle cx="1191" cy="420.9" r="3.8" stroke-width="2.6" fill="none"/>
<path d="M1107.7,326.4 L1115.5,310 H1266.1 L1273.9,326.4" stroke-width="2.3" fill="none"/>
<line x1="1121" y1="319" x2="1121" y2="326.4" stroke-width="1.7"/>
<line x1="1261" y1="319" x2="1261" y2="326.4" stroke-width="1.7"/>
<rect x="1101.7" y="326.4" width="179.3" height="14.7" rx="2" stroke-width="2.3" fill="none"/>
<line x1="1103.5" y1="335.4" x2="1279" y2="335.4" stroke-width="1.7"/>
<rect x="1106.3" y="341.1" width="170.4" height="53.8" rx="0" stroke-width="2.3" fill="#fff"/>
<line x1="1281" y1="341.1" x2="1281" y2="394.9" stroke-width="1.7"/>
<path d="M1106.3,394.9 L1117.3,404.4 H1264.3 L1276.7,394.9" stroke-width="2.3" fill="none"/>
<rect x="1281" y="344" width="8" height="43.5" rx="0" stroke-width="1.8" fill="#fff"/>
<line x1="1281" y1="365" x2="1289" y2="365" stroke-width="1.6"/>
<path d="M1289,343.5 H1310 Q1312,343.5 1312,346 V385 Q1312,388 1310,388 H1289 Z" stroke-width="1" fill="#000"/>
<path d="M1312,350 H1317 Q1323.5,350 1323.5,357 V377 Q1323.5,384 1317,384 H1312" stroke-width="2.2" fill="#fff"/>
<line x1="1267" y1="309.8" x2="1439" y2="309.8" stroke-width="1.25"/>
<line x1="1339" y1="710.4" x2="1441" y2="710.4" stroke-width="1.25"/>
<line x1="1424" y1="309.8" x2="1424" y2="710.4" stroke-width="1.25"/>
<path d="M1424,309.8 L1427.3,322.8 L1420.7,322.8 Z" fill="#000" stroke="none"/>
<path d="M1424,710.4 L1420.7,697.4 L1427.3,697.4 Z" fill="#000" stroke="none"/>
<line x1="1190.8" y1="557.5" x2="1419.5" y2="557.5" stroke-width="1.25"/>
<line x1="1403" y1="557.5" x2="1403" y2="710.4" stroke-width="1.25"/>
<path d="M1403,557.5 L1406.3,570.5 L1399.7,570.5 Z" fill="#000" stroke="none"/>
<path d="M1403,710.4 L1399.7,697.4 L1406.3,697.4 Z" fill="#000" stroke="none"/>
<line x1="1072.8" y1="690" x2="1072.8" y2="773.5" stroke-width="1.25"/>
<line x1="1309.6" y1="690" x2="1309.6" y2="773.5" stroke-width="1.25"/>
<line x1="1072.8" y1="757.3" x2="1309.6" y2="757.3" stroke-width="1.25"/>
<path d="M1072.8,757.3 L1085.8,754 L1085.8,760.6 Z" fill="#000" stroke="none"/>
<path d="M1309.6,757.3 L1296.6,760.6 L1296.6,754 Z" fill="#000" stroke="none"/>
<line x1="1043.2" y1="710" x2="1043.2" y2="813" stroke-width="1.25"/>
<line x1="1338.4" y1="710" x2="1338.4" y2="813" stroke-width="1.25"/>
<line x1="1043.2" y1="797" x2="1338.4" y2="797" stroke-width="1.25"/>
<path d="M1043.2,797 L1056.2,793.7 L1056.2,800.3 Z" fill="#000" stroke="none"/>
<path d="M1338.4,797 L1325.4,800.3 L1325.4,793.7 Z" fill="#000" stroke="none"/>
<path d="M1022,426.1 H1084.6 L1116.4,482.2" stroke-width="1.25" fill="none"/>
<path d="M1116.4,482.2 L1107.7,473.34 L1113.27,470.18 Z" fill="#000" stroke="none"/>
<line x1="1106.2" y1="513.5" x2="1275.4" y2="601.5" stroke-width="1.25"/>
<path d="M1106.2,513.5 L1118.23,516.36 L1115.47,521.69 Z" fill="#000" stroke="none"/>
<path d="M1275.4,601.5 L1263.37,598.64 L1266.13,593.31 Z" fill="#000" stroke="none"/>
<path d="M1275.4,601.5 L1419,769 H1442" stroke-width="1.25" fill="none"/>
<text x="681" y="221.5" font-size="25" text-anchor="middle" stroke="none" fill="#000">L</text>
<text x="458" y="268" font-size="25" text-anchor="middle" stroke="none" fill="#000">E</text>
<text x="184" y="500" font-size="25" text-anchor="middle" stroke="none" fill="#000">F</text>
<text x="128.5" y="538" font-size="25" text-anchor="middle" stroke="none" fill="#000">D</text>
<text x="262.5" y="706" font-size="25" text-anchor="middle" stroke="none" fill="#000">DB</text>
<text x="475" y="707" font-size="25" text-anchor="middle" stroke="none" fill="#000">T</text>
<text x="680.3" y="739.5" font-size="25" text-anchor="middle" stroke="none" fill="#000">B</text>
<text x="48" y="553" font-size="25" text-anchor="middle" stroke="none" fill="#000" transform="rotate(-90 48 553)" dominant-baseline="central">GD</text>
<text x="340.7" y="556.5" font-size="25" text-anchor="middle" stroke="none" fill="#000" transform="rotate(-90 340.7 556.5)" dominant-baseline="central">P</text>
<text x="382.3" y="556.5" font-size="25" text-anchor="middle" stroke="none" fill="#000" transform="rotate(-90 382.3 556.5)" dominant-baseline="central">N</text>
<text x="969" y="557.5" font-size="25" text-anchor="middle" stroke="none" fill="#000" transform="rotate(-90 969 557.5)" dominant-baseline="central">AC</text>
<text x="832.4" y="565.4" font-size="21.5" text-anchor="middle" stroke="none" fill="#000" font-weight="bold" transform="translate(832.4 0) scale(1.12 1) translate(-832.4 0)">0</text>
<text x="1031" y="418" font-size="25" text-anchor="middle" stroke="none" fill="#000">S</text>
<text x="1191" y="749.5" font-size="25" text-anchor="middle" stroke="none" fill="#000">A</text>
<text x="1191" y="789" font-size="25" text-anchor="middle" stroke="none" fill="#000">AB</text>
<text x="1431" y="792" font-size="25" text-anchor="middle" stroke="none" fill="#000">M</text>
<text x="1407.5" y="510.5" font-size="25" text-anchor="middle" stroke="none" fill="#000" transform="rotate(-90 1407.5 510.5)" dominant-baseline="central">HD</text>
<text x="1386.5" y="632" font-size="25" text-anchor="middle" stroke="none" fill="#000" transform="rotate(-90 1386.5 632)" dominant-baseline="central">H</text>
</g>
<text x="1213" y="69.5" font-family="Liberation Serif" font-size="56" fill="#1f6880" stroke="#1f6880" stroke-width="2.2" textLength="153" lengthAdjust="spacingAndGlyphs">Pompe</text>
<text x="1319.5" y="113.4" font-family="Liberation Serif" font-size="48" fill="#1f6880" stroke="#1f6880" stroke-width="2" textLength="133" lengthAdjust="spacingAndGlyphs">Moteur</text>
<g transform="translate(1426.5 136) rotate(8)"><rect x="-21.8" y="-13.2" width="43.6" height="26.4" rx="3.5" fill="#e8891f"/><text x="0" y="8" font-family="Liberation Sans" font-style="italic" font-weight="bold" font-size="25" fill="#fff" text-anchor="middle">.fr</text></g>
<path d="M1308.5,99.5 C1311.5,105 1308.5,113 1302,118 C1295,123.5 1281,126.5 1275.5,121 C1270.5,115 1279,107.5 1288,102 C1296,97 1304,90 1303,84 C1302,78.5 1293,78.5 1288.5,82 C1282.5,87 1283,96 1290,101.5 C1295,105.5 1300,110 1305,115" fill="none" stroke="#113b52" stroke-width="5.6" stroke-linecap="round"/>
<circle cx="1307.6" cy="100" r="3.6" fill="#113b52"/>
<polygon points="1302.78,116.71 1304.1,118.34 1305.47,119.97 1306.88,121.58 1308.31,123.15 1309.79,124.71 1311.29,126.23 1312.83,127.72 1314.4,129.19 1316,130.63 1317.64,132.03 1319.31,133.41 1321.02,134.75 1322.76,136.05 1324.53,137.32 1326.34,138.56 1328.18,139.76 1330.05,140.93 1331.96,142.05 1333.9,143.14 1335.88,144.19 1337.89,145.19 1339.93,146.16 1342.01,147.08 1344.12,147.96 1346.26,148.8 1348.44,149.59 1350.65,150.34 1352.9,151.04 1355.18,151.69 1357.49,152.3 1359.84,152.86 1362.22,153.36 1364.64,153.82 1367.09,154.23 1369.58,154.58 1372.1,154.89 1374.65,155.14 1377.24,155.33 1379.86,155.47 1382.52,155.56 1385.21,155.59 1387.94,155.56 1390.7,155.48 1393.5,155.33 1396.33,155.13 1399.2,154.86 1402.1,154.54 1405.04,154.15 1408.01,153.7 1411.02,153.19 1414.07,152.61 1417.15,151.97 1420.27,151.27 1423.43,150.49 1426.62,149.65 1429.85,148.74 1433.12,147.77 1436.42,146.72 1439.77,145.61 1443.15,144.43 1442.85,143.57 1439.47,144.72 1436.13,145.79 1432.82,146.78 1429.56,147.7 1426.33,148.55 1423.14,149.33 1420,150.04 1416.89,150.68 1413.81,151.26 1410.78,151.76 1407.79,152.21 1404.83,152.58 1401.92,152.9 1399.04,153.15 1396.2,153.34 1393.4,153.47 1390.64,153.54 1387.92,153.55 1385.24,153.51 1382.59,153.4 1379.99,153.24 1377.42,153.03 1374.89,152.76 1372.4,152.44 1369.95,152.07 1367.53,151.64 1365.16,151.17 1362.82,150.64 1360.52,150.07 1358.26,149.45 1356.03,148.79 1353.84,148.07 1351.69,147.32 1349.58,146.52 1347.5,145.67 1345.47,144.79 1343.46,143.86 1341.5,142.9 1339.57,141.89 1337.68,140.85 1335.82,139.77 1334,138.65 1332.22,137.5 1330.47,136.32 1328.76,135.09 1327.08,133.84 1325.44,132.56 1323.83,131.24 1322.26,129.89 1320.72,128.51 1319.22,127.11 1317.75,125.68 1316.32,124.21 1314.92,122.73 1313.55,121.22 1312.22,119.68 1310.92,118.12 1309.66,116.54 1308.43,114.93 1307.22,113.29" fill="#113b52"/>
<g>
</g>
</svg>
<div style="position:absolute;left:4px;top:910px;width:1496px;height:401.7px;background:#d9f1f5"></div>
<div class="c h" style="left:4px;top:881px;width:130.4px;height:77px"></div>
<div class="c b" style="left:4px;top:893px;width:127px;line-height:28.5px"><span class="sx">Hauteur<br>d’axe</span></div>
<div class="c h" style="left:136px;top:910px;width:83.8px;height:48px;line-height:51px"><span class="sx">A</span></div>
<div class="c h" style="left:221.4px;top:910px;width:84.4px;height:48px;line-height:51px"><span class="sx">AB</span></div>
<div class="c h" style="left:307.4px;top:910px;width:84.2px;height:48px;line-height:51px"><span class="sx">AC</span></div>
<div class="c h" style="left:393.2px;top:910px;width:84px;height:48px;line-height:51px"><span class="sx">B</span></div>
<div class="c h" style="left:478.8px;top:910px;width:83.4px;height:48px;line-height:51px"><span class="sx">D</span></div>
<div class="c h" style="left:563.8px;top:910px;width:84.4px;height:48px;line-height:51px"><span class="sx">DB</span></div>
<div class="c h" style="left:649.8px;top:910px;width:84.4px;height:48px;line-height:51px"><span class="sx">E</span></div>
<div class="c h" style="left:735.8px;top:910px;width:84.3px;height:48px;line-height:51px"><span class="sx">F</span></div>
<div class="c h" style="left:821.7px;top:910px;width:82.6px;height:48px;line-height:51px"><span class="sx">H</span></div>
<div class="c h" style="left:905.9px;top:910px;width:84.2px;height:48px;line-height:51px"><span class="sx">HD</span></div>
<div class="c h" style="left:991.7px;top:910px;width:83.5px;height:48px;line-height:51px"><span class="sx">L</span></div>
<div class="c h" style="left:1076.8px;top:910px;width:84px;height:48px;line-height:51px"><span class="sm">M<span class="r"> (FT)</span></span></div>
<div class="c h" style="left:1162.4px;top:910px;width:83.8px;height:48px;line-height:51px"><span class="sm">N<span class="r"> (j6)</span></span></div>
<div class="c h" style="left:1247.8px;top:910px;width:83.8px;height:48px;line-height:51px"><span class="sx">P</span></div>
<div class="c h" style="left:1333.2px;top:910px;width:84px;height:48px;line-height:51px"><span class="sx">S</span></div>
<div class="c h" style="left:1418.8px;top:910px;width:83.9px;height:48px;line-height:51px"><span class="sx">T</span></div>
<div class="c b" style="left:4px;top:959.6px;width:130.4px;height:48.4px;line-height:52.4px;background:#4a7179;padding-left:9px"><span class="sx">56</span></div>
<div class="c d" style="left:136px;top:959.6px;width:83.8px;height:48.4px;line-height:52.4px;background:#4a7179"><span class="sd">90</span></div>
<div class="c d" style="left:221.4px;top:959.6px;width:84.4px;height:48.4px;line-height:52.4px;background:#4a7179"><span class="sd">110</span></div>
<div class="c d" style="left:307.4px;top:959.6px;width:84.2px;height:48.4px;line-height:52.4px;background:#4a7179"><span class="sd">115</span></div>
<div class="c d" style="left:393.2px;top:959.6px;width:84px;height:48.4px;line-height:52.4px;background:#4a7179"><span class="sd">71</span></div>
<div class="c d" style="left:478.8px;top:959.6px;width:83.4px;height:48.4px;line-height:52.4px;background:#4a7179"><span class="sd">9</span></div>
<div class="c d" style="left:563.8px;top:959.6px;width:84.4px;height:48.4px;line-height:52.4px;background:#4a7179"><span class="sd">M3</span></div>
<div class="c d" style="left:649.8px;top:959.6px;width:84.4px;height:48.4px;line-height:52.4px;background:#4a7179"><span class="sd">20</span></div>
<div class="c d" style="left:735.8px;top:959.6px;width:84.3px;height:48.4px;line-height:52.4px;background:#4a7179"><span class="sd">3</span></div>
<div class="c d" style="left:821.7px;top:959.6px;width:82.6px;height:48.4px;line-height:52.4px;background:#4a7179"><span class="sd">56</span></div>
<div class="c d" style="left:905.9px;top:959.6px;width:84.2px;height:48.4px;line-height:52.4px;background:#4a7179"><span class="sd">156</span></div>
<div class="c d" style="left:991.7px;top:959.6px;width:83.5px;height:48.4px;line-height:55.4px;background:#4a7179"><span class="sd">192</span></div>
<div class="c d" style="left:1076.8px;top:959.6px;width:84px;height:48.4px;line-height:52.4px;background:#4a7179"><span class="sd">65</span></div>
<div class="c d" style="left:1162.4px;top:959.6px;width:83.8px;height:48.4px;line-height:54.4px;background:#4a7179"><span class="sd">50</span></div>
<div class="c d" style="left:1247.8px;top:959.6px;width:83.8px;height:48.4px;line-height:52.4px;background:#4a7179"><span class="sd">80</span></div>
<div class="c d" style="left:1333.2px;top:959.6px;width:84px;height:48.4px;line-height:52.4px;background:#4a7179"><span class="sd">M5</span></div>
<div class="c d" style="left:1418.8px;top:959.6px;width:83.9px;height:48.4px;line-height:52.4px;background:#4a7179"><span class="sd">2,5</span></div>
<div class="c b" style="left:4px;top:1009.6px;width:130.4px;height:48.4px;line-height:52.4px;background:#438a9b;padding-left:9px"><span class="sx">63</span></div>
<div class="c d" style="left:136px;top:1009.6px;width:83.8px;height:48.4px;line-height:52.4px;background:#438a9b"><span class="sd">100</span></div>
<div class="c d" style="left:221.4px;top:1009.6px;width:84.4px;height:48.4px;line-height:52.4px;background:#438a9b"><span class="sd">120</span></div>
<div class="c d" style="left:307.4px;top:1009.6px;width:84.2px;height:48.4px;line-height:52.4px;background:#438a9b"><span class="sd">130</span></div>
<div class="c d" style="left:393.2px;top:1009.6px;width:84px;height:48.4px;line-height:52.4px;background:#438a9b"><span class="sd">80</span></div>
<div class="c d" style="left:478.8px;top:1009.6px;width:83.4px;height:48.4px;line-height:52.4px;background:#438a9b"><span class="sd">11</span></div>
<div class="c d" style="left:563.8px;top:1009.6px;width:84.4px;height:48.4px;line-height:52.4px;background:#438a9b"><span class="sd">M4</span></div>
<div class="c d" style="left:649.8px;top:1009.6px;width:84.4px;height:48.4px;line-height:52.4px;background:#438a9b"><span class="sd">23</span></div>
<div class="c d" style="left:735.8px;top:1009.6px;width:84.3px;height:48.4px;line-height:52.4px;background:#438a9b"><span class="sd">4</span></div>
<div class="c d" style="left:821.7px;top:1009.6px;width:82.6px;height:48.4px;line-height:52.4px;background:#438a9b"><span class="sd">63</span></div>
<div class="c d" style="left:905.9px;top:1009.6px;width:84.2px;height:48.4px;line-height:52.4px;background:#438a9b"><span class="sd">179</span></div>
<div class="c d" style="left:991.7px;top:1009.6px;width:83.5px;height:48.4px;line-height:52.4px;background:#438a9b"><span class="sd">230</span></div>
<div class="c d" style="left:1076.8px;top:1009.6px;width:84px;height:48.4px;line-height:52.4px;background:#438a9b"><span class="sd">75</span></div>
<div class="c d" style="left:1162.4px;top:1009.6px;width:83.8px;height:48.4px;line-height:54.4px;background:#438a9b"><span class="sd">60</span></div>
<div class="c d" style="left:1247.8px;top:1009.6px;width:83.8px;height:48.4px;line-height:52.4px;background:#438a9b"><span class="sd">90</span></div>
<div class="c d" style="left:1333.2px;top:1009.6px;width:84px;height:48.4px;line-height:52.4px;background:#438a9b"><span class="sd">M5</span></div>
<div class="c d" style="left:1418.8px;top:1009.6px;width:83.9px;height:48.4px;line-height:52.4px;background:#438a9b"><span class="sd">2,5</span></div>
<div class="c b" style="left:4px;top:1059.6px;width:130.4px;height:48.4px;line-height:52.4px;background:#4a7179;padding-left:9px"><span class="sx">71</span></div>
<div class="c d" style="left:136px;top:1059.6px;width:83.8px;height:48.4px;line-height:52.4px;background:#4a7179"><span class="sd">112</span></div>
<div class="c d" style="left:221.4px;top:1059.6px;width:84.4px;height:48.4px;line-height:52.4px;background:#4a7179"><span class="sd">132</span></div>
<div class="c d" style="left:307.4px;top:1059.6px;width:84.2px;height:48.4px;line-height:52.4px;background:#4a7179"><span class="sd">145</span></div>
<div class="c d" style="left:393.2px;top:1059.6px;width:84px;height:48.4px;line-height:52.4px;background:#4a7179"><span class="sd">90</span></div>
<div class="c d" style="left:478.8px;top:1059.6px;width:83.4px;height:48.4px;line-height:52.4px;background:#4a7179"><span class="sd">14</span></div>
<div class="c d" style="left:563.8px;top:1059.6px;width:84.4px;height:48.4px;line-height:52.4px;background:#4a7179"><span class="sd">M5</span></div>
<div class="c d" style="left:649.8px;top:1059.6px;width:84.4px;height:48.4px;line-height:52.4px;background:#4a7179"><span class="sd">30</span></div>
<div class="c d" style="left:735.8px;top:1059.6px;width:84.3px;height:48.4px;line-height:52.4px;background:#4a7179"><span class="sd">5</span></div>
<div class="c d" style="left:821.7px;top:1059.6px;width:82.6px;height:48.4px;line-height:52.4px;background:#4a7179"><span class="sd">71</span></div>
<div class="c d" style="left:905.9px;top:1059.6px;width:84.2px;height:48.4px;line-height:52.4px;background:#4a7179"><span class="sd">194</span></div>
<div class="c d" style="left:991.7px;top:1059.6px;width:83.5px;height:48.4px;line-height:55.4px;background:#4a7179"><span class="sd">260</span></div>
<div class="c d" style="left:1076.8px;top:1059.6px;width:84px;height:48.4px;line-height:52.4px;background:#4a7179"><span class="sd">85</span></div>
<div class="c d" style="left:1162.4px;top:1059.6px;width:83.8px;height:48.4px;line-height:54.4px;background:#4a7179"><span class="sd">70</span></div>
<div class="c d" style="left:1247.8px;top:1059.6px;width:83.8px;height:48.4px;line-height:52.4px;background:#4a7179"><span class="sd">105</span></div>
<div class="c d" style="left:1333.2px;top:1059.6px;width:84px;height:48.4px;line-height:52.4px;background:#4a7179"><span class="sd">M6</span></div>
<div class="c d" style="left:1418.8px;top:1059.6px;width:83.9px;height:48.4px;line-height:52.4px;background:#4a7179"><span class="sd">2,5</span></div>
<div class="c b" style="left:4px;top:1109.6px;width:130.4px;height:48.4px;line-height:52.4px;background:#438a9b;padding-left:9px"><span class="sx">80</span></div>
<div class="c d" style="left:136px;top:1109.6px;width:83.8px;height:48.4px;line-height:52.4px;background:#438a9b"><span class="sd">125</span></div>
<div class="c d" style="left:221.4px;top:1109.6px;width:84.4px;height:48.4px;line-height:52.4px;background:#438a9b"><span class="sd">160</span></div>
<div class="c d" style="left:307.4px;top:1109.6px;width:84.2px;height:48.4px;line-height:52.4px;background:#438a9b"><span class="sd">165</span></div>
<div class="c d" style="left:393.2px;top:1109.6px;width:84px;height:48.4px;line-height:52.4px;background:#438a9b"><span class="sd">100</span></div>
<div class="c d" style="left:478.8px;top:1109.6px;width:83.4px;height:48.4px;line-height:52.4px;background:#438a9b"><span class="sd">19</span></div>
<div class="c d" style="left:563.8px;top:1109.6px;width:84.4px;height:48.4px;line-height:52.4px;background:#438a9b"><span class="sd">M6</span></div>
<div class="c d" style="left:649.8px;top:1109.6px;width:84.4px;height:48.4px;line-height:52.4px;background:#438a9b"><span class="sd">40</span></div>
<div class="c d" style="left:735.8px;top:1109.6px;width:84.3px;height:48.4px;line-height:52.4px;background:#438a9b"><span class="sd">6</span></div>
<div class="c d" style="left:821.7px;top:1109.6px;width:82.6px;height:48.4px;line-height:52.4px;background:#438a9b"><span class="sd">80</span></div>
<div class="c d" style="left:905.9px;top:1109.6px;width:84.2px;height:48.4px;line-height:52.4px;background:#438a9b"><span class="sd">223</span></div>
<div class="c d" style="left:991.7px;top:1109.6px;width:83.5px;height:48.4px;line-height:60.4px;background:#438a9b"><span class="sd">295</span></div>
<div class="c d" style="left:1076.8px;top:1109.6px;width:84px;height:48.4px;line-height:52.4px;background:#438a9b"><span class="sd">100</span></div>
<div class="c d" style="left:1162.4px;top:1109.6px;width:83.8px;height:48.4px;line-height:54.4px;background:#438a9b"><span class="sd">80</span></div>
<div class="c d" style="left:1247.8px;top:1109.6px;width:83.8px;height:48.4px;line-height:52.4px;background:#438a9b"><span class="sd">120</span></div>
<div class="c d" style="left:1333.2px;top:1109.6px;width:84px;height:48.4px;line-height:52.4px;background:#438a9b"><span class="sd">M6</span></div>
<div class="c d" style="left:1418.8px;top:1109.6px;width:83.9px;height:48.4px;line-height:52.4px;background:#438a9b"><span class="sd">3</span></div>
<div class="c b" style="left:4px;top:1159.6px;width:130.4px;height:48.4px;line-height:52.4px;background:#4a7179;padding-left:9px"><span class="sx">90S</span></div>
<div class="c d" style="left:136px;top:1159.6px;width:83.8px;height:48.4px;line-height:52.4px;background:#4a7179"><span class="sd">140</span></div>
<div class="c d" style="left:221.4px;top:1159.6px;width:84.4px;height:48.4px;line-height:52.4px;background:#4a7179"><span class="sd">175</span></div>
<div class="c d" style="left:307.4px;top:1159.6px;width:84.2px;height:48.4px;line-height:56.4px;background:#4a7179"><span class="sd">185</span></div>
<div class="c d" style="left:393.2px;top:1159.6px;width:84px;height:48.4px;line-height:52.4px;background:#4a7179"><span class="sd">100</span></div>
<div class="c d" style="left:478.8px;top:1159.6px;width:83.4px;height:48.4px;line-height:52.4px;background:#4a7179"><span class="sd">24</span></div>
<div class="c d" style="left:563.8px;top:1159.6px;width:84.4px;height:48.4px;line-height:52.4px;background:#4a7179"><span class="sd">M8</span></div>
<div class="c d" style="left:649.8px;top:1159.6px;width:84.4px;height:48.4px;line-height:52.4px;background:#4a7179"><span class="sd">50</span></div>
<div class="c d" style="left:735.8px;top:1159.6px;width:84.3px;height:48.4px;line-height:52.4px;background:#4a7179"><span class="sd">8</span></div>
<div class="c d" style="left:821.7px;top:1159.6px;width:82.6px;height:48.4px;line-height:52.4px;background:#4a7179"><span class="sd">90</span></div>
<div class="c d" style="left:905.9px;top:1159.6px;width:84.2px;height:48.4px;line-height:52.4px;background:#4a7179"><span class="sd">240</span></div>
<div class="c d" style="left:991.7px;top:1159.6px;width:83.5px;height:48.4px;line-height:52.4px;background:#4a7179"><span class="sd">315</span></div>
<div class="c d" style="left:1076.8px;top:1159.6px;width:84px;height:48.4px;line-height:52.4px;background:#4a7179"><span class="sd">115</span></div>
<div class="c d" style="left:1162.4px;top:1159.6px;width:83.8px;height:48.4px;line-height:54.4px;background:#4a7179"><span class="sd">95</span></div>
<div class="c d" style="left:1247.8px;top:1159.6px;width:83.8px;height:48.4px;line-height:52.4px;background:#4a7179"><span class="sd">140</span></div>
<div class="c d" style="left:1333.2px;top:1159.6px;width:84px;height:48.4px;line-height:52.4px;background:#4a7179"><span class="sd">M8</span></div>
<div class="c d" style="left:1418.8px;top:1159.6px;width:83.9px;height:48.4px;line-height:52.4px;background:#4a7179"><span class="sd">3</span></div>
<div class="c b" style="left:4px;top:1209.6px;width:130.4px;height:48.4px;line-height:52.4px;background:#438a9b;padding-left:9px"><span class="sx">90L</span></div>
<div class="c d" style="left:136px;top:1209.6px;width:83.8px;height:48.4px;line-height:52.4px;background:#438a9b"><span class="sd">140</span></div>
<div class="c d" style="left:221.4px;top:1209.6px;width:84.4px;height:48.4px;line-height:52.4px;background:#438a9b"><span class="sd">175</span></div>
<div class="c d" style="left:307.4px;top:1209.6px;width:84.2px;height:48.4px;line-height:56.4px;background:#438a9b"><span class="sd">185</span></div>
<div class="c d" style="left:393.2px;top:1209.6px;width:84px;height:48.4px;line-height:52.4px;background:#438a9b"><span class="sd">125</span></div>
<div class="c d" style="left:478.8px;top:1209.6px;width:83.4px;height:48.4px;line-height:52.4px;background:#438a9b"><span class="sd">24</span></div>
<div class="c d" style="left:563.8px;top:1209.6px;width:84.4px;height:48.4px;line-height:52.4px;background:#438a9b"><span class="sd">M8</span></div>
<div class="c d" style="left:649.8px;top:1209.6px;width:84.4px;height:48.4px;line-height:52.4px;background:#438a9b"><span class="sd">50</span></div>
<div class="c d" style="left:735.8px;top:1209.6px;width:84.3px;height:48.4px;line-height:52.4px;background:#438a9b"><span class="sd">8</span></div>
<div class="c d" style="left:821.7px;top:1209.6px;width:82.6px;height:48.4px;line-height:52.4px;background:#438a9b"><span class="sd">90</span></div>
<div class="c d" style="left:905.9px;top:1209.6px;width:84.2px;height:48.4px;line-height:52.4px;background:#438a9b"><span class="sd">240</span></div>
<div class="c d" style="left:991.7px;top:1209.6px;width:83.5px;height:48.4px;line-height:52.4px;background:#438a9b"><span class="sd">365</span></div>
<div class="c d" style="left:1076.8px;top:1209.6px;width:84px;height:48.4px;line-height:52.4px;background:#438a9b"><span class="sd">115</span></div>
<div class="c d" style="left:1162.4px;top:1209.6px;width:83.8px;height:48.4px;line-height:54.4px;background:#438a9b"><span class="sd">95</span></div>
<div class="c d" style="left:1247.8px;top:1209.6px;width:83.8px;height:48.4px;line-height:52.4px;background:#438a9b"><span class="sd">140</span></div>
<div class="c d" style="left:1333.2px;top:1209.6px;width:84px;height:48.4px;line-height:52.4px;background:#438a9b"><span class="sd">M8</span></div>
<div class="c d" style="left:1418.8px;top:1209.6px;width:83.9px;height:48.4px;line-height:52.4px;background:#438a9b"><span class="sd">3</span></div>
<div class="c b" style="left:4px;top:1259.6px;width:130.4px;height:52.1px;line-height:52.4px;background:#ff8004;padding-left:9px"><span class="sx">100</span></div>
<div class="c d" style="left:136px;top:1259.6px;width:83.8px;height:52.1px;line-height:52.4px;background:#ff8004"><span class="sd">160</span></div>
<div class="c d" style="left:221.4px;top:1259.6px;width:84.4px;height:52.1px;line-height:52.4px;background:#ff8004"><span class="sd">198</span></div>
<div class="c d" style="left:307.4px;top:1259.6px;width:84.2px;height:52.1px;line-height:52.4px;background:#ff8004"><span class="sd">205</span></div>
<div class="c d" style="left:393.2px;top:1259.6px;width:84px;height:52.1px;line-height:52.4px;background:#ff8004"><span class="sd">140</span></div>
<div class="c d" style="left:478.8px;top:1259.6px;width:83.4px;height:52.1px;line-height:52.4px;background:#ff8004"><span class="sd">28</span></div>
<div class="c d" style="left:563.8px;top:1259.6px;width:84.4px;height:52.1px;line-height:52.4px;background:#ff8004"><span class="sd">M10</span></div>
<div class="c d" style="left:649.8px;top:1259.6px;width:84.4px;height:52.1px;line-height:52.4px;background:#ff8004"><span class="sd">60</span></div>
<div class="c d" style="left:735.8px;top:1259.6px;width:84.3px;height:52.1px;line-height:52.4px;background:#ff8004"><span class="sd">8</span></div>
<div class="c d" style="left:821.7px;top:1259.6px;width:82.6px;height:52.1px;line-height:52.4px;background:#ff8004"><span class="sd">100</span></div>
<div class="c d" style="left:905.9px;top:1259.6px;width:84.2px;height:52.1px;line-height:52.4px;background:#ff8004"><span class="sd">260</span></div>
<div class="c d" style="left:991.7px;top:1259.6px;width:83.5px;height:52.1px;line-height:52.4px;background:#ff8004"><span class="sd">400</span></div>
<div class="c d" style="left:1076.8px;top:1259.6px;width:84px;height:52.1px;line-height:52.4px;background:#ff8004"><span class="sd">130</span></div>
<div class="c d" style="left:1162.4px;top:1259.6px;width:83.8px;height:52.1px;line-height:52.4px;background:#ff8004"><span class="sd">110</span></div>
<div class="c d" style="left:1247.8px;top:1259.6px;width:83.8px;height:52.1px;line-height:52.4px;background:#ff8004"><span class="sd">160</span></div>
<div class="c d" style="left:1333.2px;top:1259.6px;width:84px;height:52.1px;line-height:52.4px;background:#ff8004"><span class="sd">M8</span></div>
<div class="c d" style="left:1418.8px;top:1259.6px;width:83.9px;height:52.1px;line-height:52.4px;background:#ff8004"><span class="sd">3,5</span></div>
</body></html>
